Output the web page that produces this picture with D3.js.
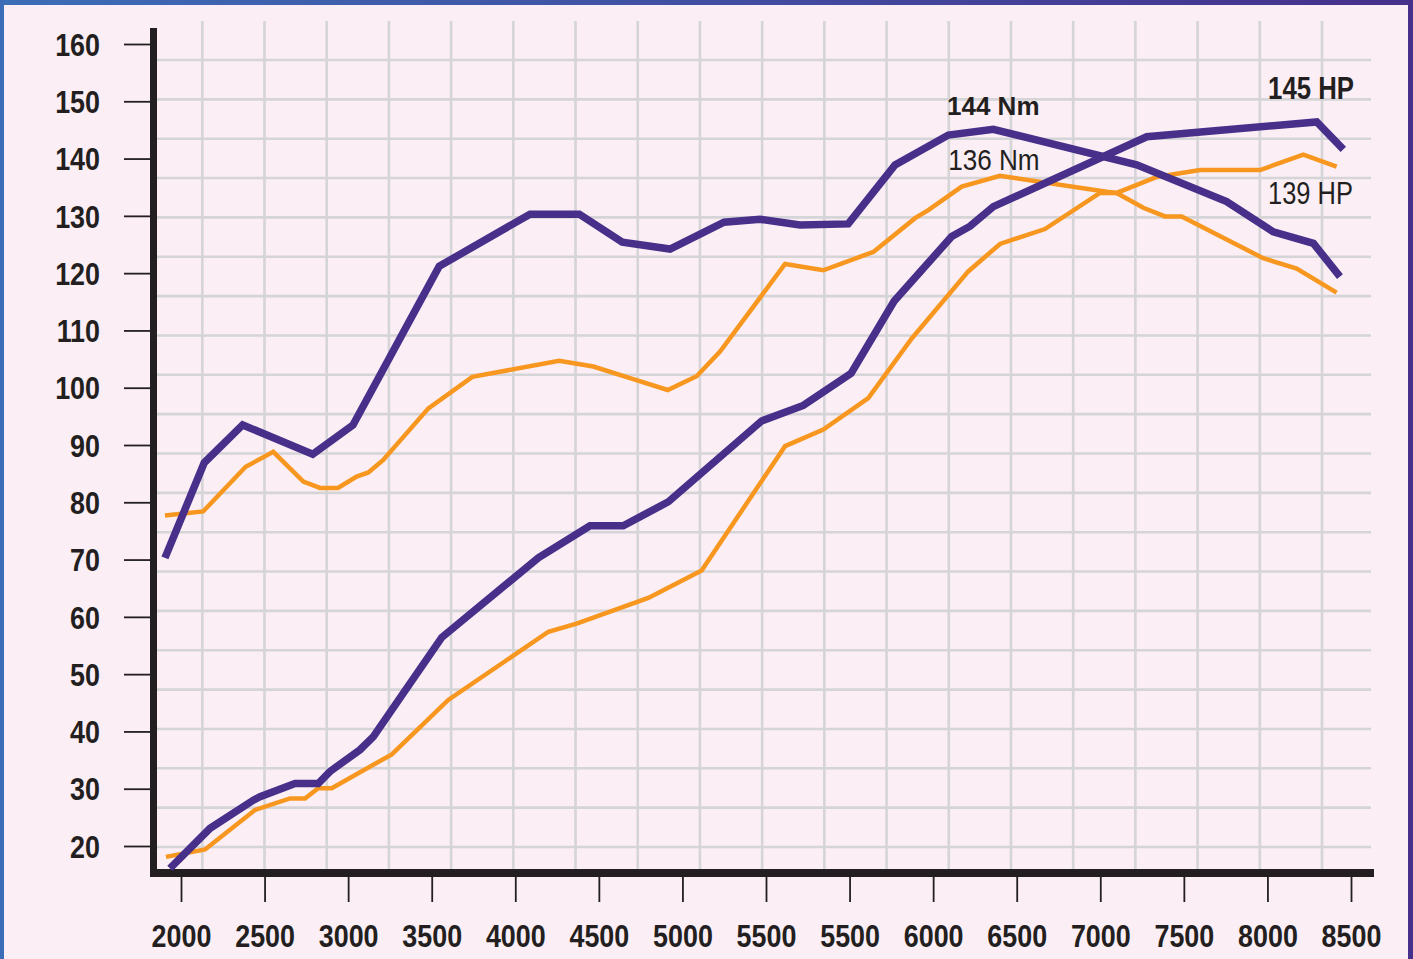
<!DOCTYPE html>
<html>
<head>
<meta charset="utf-8">
<script src="https://cdn.jsdelivr.net/npm/d3@7"></script>
<style>
  body { margin: 0; background: #fbeef5; }
  svg { display: block; }
</style>
</head>
<body>
<div id="chart"></div>
<script>
// --- Daten ---
// Drehzahl-Positionen entlang der Achse (2000..9000 gleichmäßig), Werte in Nm bzw. HP

const xTickLabels = ["2000", "2500", "3000", "3500", "4000", "4500", "5000", "5500",
                     "5500", "6000", "6500", "7000", "7500", "8000", "8500"];
const yTicks = [20, 30, 40, 50, 60, 70, 80, 90, 100, 110, 120, 130, 140, 150, 160];

// Drehmoment, getunt (dicke violette Linie oben)
const nmTunedRpm = [1904, 2139, 2369, 2788, 3029, 3545, 4088, 4383, 4640, 4926, 5249, 5464,
                    5703, 5992, 6272, 6591, 6860, 7718, 8256, 8535, 8775, 8934];
const nmTunedVal = [70.3, 86.9, 93.5, 88.4, 93.5, 121.2, 130.3, 130.3, 125.4, 124.2, 128.9, 129.4,
                    128.4, 128.6, 138.9, 144.1, 145.1, 138.9, 132.5, 127.2, 125.2, 119.4];

// Drehmoment, Serie (dünne orange Linie oben)
const nmStockRpm = [1904, 2132, 2387, 2552, 2732, 2832, 2939, 3051, 3121, 3210, 3480, 3743,
                    4262, 4467, 4706, 4912, 5085, 5225, 5614, 5843, 6142, 6392, 6471, 6671,
                    6900, 7538, 7598, 7757, 7887, 7987, 8475, 8675, 8914];
const nmStockVal = [77.7, 78.4, 86.2, 88.8, 83.6, 82.5, 82.5, 84.5, 85.2, 87.4, 96.4, 101.9,
                    104.7, 103.7, 101.5, 99.6, 102.0, 106.3, 121.6, 120.5, 123.7, 129.6, 131.0, 135.1,
                    137.0, 134.2, 134.0, 131.4, 129.9, 129.9, 122.6, 120.8, 116.6];

// Leistung, getunt (dicke violette Linie unten)
const hpTunedRpm = [1934, 2174, 2433, 2473, 2682, 2821, 2891, 3071, 3151, 3560, 4138, 4447,
                    4646, 4916, 5474, 5723, 6009, 6266, 6611, 6721, 6860, 7778, 8795, 8954];
const hpTunedVal = [16.1, 23.1, 28.0, 28.6, 30.9, 30.9, 33.0, 36.8, 39.1, 56.4, 70.3, 75.9,
                    75.9, 80.1, 94.2, 96.9, 102.5, 115.1, 126.4, 128.2, 131.6, 143.8, 146.4, 141.6];

// Leistung, Serie (dünne orange Linie unten)
const hpStockRpm = [1910, 2144, 2443, 2652, 2742, 2821, 2902, 3261, 3599, 4198, 4367, 4796,
                    5115, 5614, 5843, 6112, 6372, 6710, 6900, 7169, 7498, 7598, 7838, 8097,
                    8456, 8715, 8914];
const hpStockVal = [18.1, 19.4, 26.3, 28.3, 28.3, 30.1, 30.1, 36.0, 45.5, 57.4, 58.8, 63.3,
                    68.1, 89.8, 92.7, 98.2, 108.6, 120.3, 125.1, 127.7, 134.0, 134.0, 136.8, 138.0,
                    138.0, 140.7, 138.6];

// Beschriftungen der Spitzenwerte
const peakTexts = ["144 Nm", "136 Nm", "145 HP", "139 HP"];
const peakRpm   = [6583, 6590, 8504, 8504];
const peakVal   = [147.6, 138.0, 150.4, 132.1];

// --- Zeichenfläche ---
const W = 1413, H = 959;
const purple = "#472f8a";
const orange = "#f7971f";
const ink = "#231f20";
const sans = "'Liberation Sans', Arial, sans-serif";

// schmale Schrift nachbilden: Laufweite der Liberation Sans zusammenstauchen
function condense(sel, k) {
    sel.each(function () {
        const w = this.getComputedTextLength();
        d3.select(this)
            .attr("textLength", w * k)
            .attr("lengthAdjust", "spacingAndGlyphs");
    });
}

const svg = d3.select("#chart")
    .append("svg")
    .attr("width", W)
    .attr("height", H);

// Hintergrund
svg.append("rect").attr("width", W).attr("height", H).attr("fill", "#fbeef5");

// Rahmen (oben Verlauf blau -> violett)
const grad = svg.append("defs").append("linearGradient")
    .attr("id", "frame").attr("x1", "0%").attr("x2", "100%");
grad.append("stop").attr("offset", "0%").attr("stop-color", "#3c6db7");
grad.append("stop").attr("offset", "100%").attr("stop-color", "#46308c");
svg.append("rect").attr("x", 0).attr("y", 0).attr("width", W).attr("height", 5).attr("fill", "url(#frame)");
svg.append("rect").attr("x", 0).attr("y", 0).attr("width", 4).attr("height", H).attr("fill", "#3c6cb7");
svg.append("rect").attr("x", W - 5).attr("y", 0).attr("width", 5).attr("height", H).attr("fill", "#46308c");

// Skalen
const x = d3.scaleLinear().domain([2000, 9000]).range([181, 1351]);
const y = d3.scaleLinear().domain([20, 160]).range([846, 44]);

// Raster (unabhängig von den Achsenticks)
const gridX = d3.scaleLinear().domain([0, 18]).range([202.3, 1322]);
const gridY = d3.scaleLinear().domain([0, 20]).range([60, 847]);

const grid = svg.append("g").attr("stroke", "#d5d4d7").attr("stroke-width", 2.6);
grid.selectAll("line.h")
    .data(d3.range(0, 21))
    .enter().append("line")
    .attr("class", "h")
    .attr("x1", 157).attr("x2", 1371)
    .attr("y1", d => gridY(d)).attr("y2", d => gridY(d));
grid.selectAll("line.v")
    .data(d3.range(0, 19))
    .enter().append("line")
    .attr("class", "v")
    .attr("x1", d => gridX(d)).attr("x2", d => gridX(d))
    .attr("y1", 21).attr("y2", 869);

// Y-Achse
const yAxis = svg.append("g")
    .attr("transform", "translate(150,0)")
    .call(d3.axisLeft(y).tickValues(yTicks).tickSize(26).tickPadding(24));
yAxis.select(".domain").remove();
yAxis.selectAll(".tick line").attr("stroke", ink).attr("stroke-width", 1.8);
yAxis.selectAll(".tick text")
    .attr("fill", ink)
    .attr("dy", "0.35em")
    .style("font-family", sans)
    .style("font-weight", "bold")
    .style("font-size", "32px")
    .call(condense, 0.84);

// X-Achse
const xAxis = svg.append("g")
    .attr("transform", "translate(0,877)")
    .call(d3.axisBottom(x)
        .tickValues(d3.range(2000, 9001, 500))
        .tickFormat((d, i) => xTickLabels[i])
        .tickSize(25)
        .tickPadding(22));
xAxis.select(".domain").remove();
xAxis.selectAll(".tick line").attr("stroke", ink).attr("stroke-width", 1.8);
xAxis.selectAll(".tick text")
    .attr("fill", ink)
    .style("font-family", sans)
    .style("font-weight", "bold")
    .style("font-size", "32px")
    .call(condense, 0.84);

// dicke Achsenlinien
svg.append("rect").attr("x", 150).attr("y", 28).attr("width", 7).attr("height", 849).attr("fill", ink);
svg.append("rect").attr("x", 150).attr("y", 869).attr("width", 1224).attr("height", 8).attr("fill", ink);

// Linien
const line = d3.line()
    .x(d => x(d[0]))
    .y(d => y(d[1]));

const series = [
    { rpm: nmStockRpm, val: nmStockVal, color: orange, w: 4.5 },
    { rpm: hpStockRpm, val: hpStockVal, color: orange, w: 4.5 },
    { rpm: nmTunedRpm, val: nmTunedVal, color: purple, w: 7.5 },
    { rpm: hpTunedRpm, val: hpTunedVal, color: purple, w: 7.5 }
];

svg.selectAll("path.curve")
    .data(series)
    .enter().append("path")
    .attr("class", "curve")
    .attr("fill", "none")
    .attr("stroke", d => d.color)
    .attr("stroke-width", d => d.w)
    .attr("stroke-linejoin", "miter")
    .attr("d", d => line(d.rpm.map((r, i) => [r, d.val[i]])));

// Beschriftungen: 144 Nm fett normalbreit, die anderen schmal
const labelWeight = ["bold", "normal", "bold", "normal"];
const labelSize = ["26px", "30px", "31px", "31px"];
const labelSquash = [1, 0.87, 0.83, 0.82];

svg.selectAll("text.peak")
    .data(peakTexts)
    .enter().append("text")
    .attr("class", "peak")
    .attr("x", (d, i) => x(peakRpm[i]))
    .attr("y", (d, i) => y(peakVal[i]))
    .attr("fill", ink)
    .style("font-family", sans)
    .style("font-weight", (d, i) => labelWeight[i])
    .style("font-size", (d, i) => labelSize[i])
    .text(d => d)
    .each(function (d, i) {
        d3.select(this).call(condense, labelSquash[i]);
    });
</script>
</body>
</html>
